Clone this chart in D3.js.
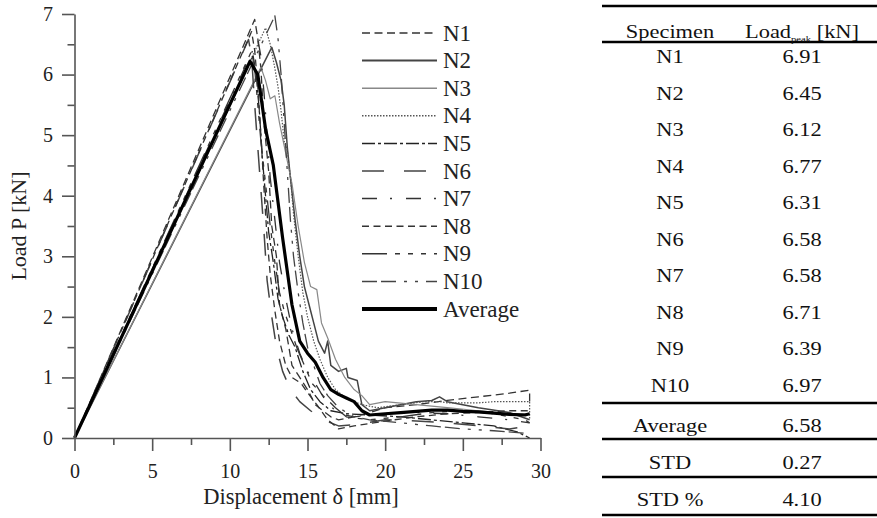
<!DOCTYPE html>
<html><head><meta charset="utf-8">
<script src="https://cdn.jsdelivr.net/npm/d3@7"></script>
<style>body{margin:0;background:#fff}svg{display:block}</style>
</head><body>
<svg id="c" width="877" height="518"></svg>
<script>
// ---------- data ----------
const seriesNames = ["N1","N2","N3","N4","N5","N6","N7","N8","N9","N10","Average"];
const N1 = [[0,0],[11.6,6.91],[11.8,6.6],[12.0,6.1],[12.2,5.2],[12.5,4.4],[12.7,3.5],[13.0,3.0],[13.2,2.2],[13.6,1.8],[14.0,1.2],[14.5,1.0],[15.0,0.8],[15.5,0.55],[16,0.45],[16.5,0.35],[17,0.3],[18,0.35],[19,0.42],[20,0.5],[22,0.55],[24,0.62],[26,0.68],[28,0.74],[29.3,0.79],[29.3,0.6]];
const N2 = [[0,0],[12.7,6.45],[13.0,6.2],[13.3,5.9],[13.5,5.5],[13.7,4.8],[13.9,4.3],[14.2,3.6],[14.5,3.0],[14.8,2.5],[15.1,2.2],[15.4,1.9],[15.7,1.6],[16.1,1.4],[16.3,1.6],[16.5,1.2],[17,1.1],[17.5,1.15],[17.6,1.0],[18.2,0.95],[18.5,0.55],[19,0.45],[20,0.5],[21,0.55],[22,0.6],[23,0.62],[23.5,0.68],[24,0.6],[26,0.5],[28,0.42],[29.3,0.3]];
const N3 = [[0,0],[12.0,6.12],[12.3,5.9],[12.6,5.6],[12.9,5.65],[13.2,5.2],[13.6,4.7],[14.0,4.2],[14.4,3.5],[14.8,2.9],[15.2,2.5],[15.6,2.45],[15.9,1.9],[16.3,1.65],[16.8,1.3],[17.4,1.0],[18.0,0.8],[18.5,0.7],[19,0.55],[20,0.6],[22,0.55],[24,0.5],[26,0.45],[28,0.4],[29.3,0.4]];
const N4 = [[0,0],[12.3,6.77],[12.6,6.5],[12.9,6.1],[13.1,5.8],[13.3,5.4],[13.5,4.9],[13.7,4.75],[13.9,4.3],[14.1,3.7],[14.4,3.0],[14.7,2.4],[15.0,2.0],[15.4,1.6],[15.8,1.3],[16.3,1.0],[16.8,0.8],[17.5,0.65],[18.5,0.55],[19.5,0.5],[21,0.55],[22.5,0.6],[23.5,0.6],[24,0.58],[26,0.58],[27,0.6],[28,0.6],[29.3,0.6],[29.3,0.3]];
const N5 = [[0,0],[11.5,6.31],[11.7,6.0],[11.9,5.4],[12.1,4.6],[12.3,4.0],[12.5,3.4],[12.8,2.9],[13.1,2.3],[13.4,2.0],[13.8,1.7],[14.2,1.5],[14.7,1.1],[15.2,0.8],[15.8,0.6],[16.5,0.45],[17.5,0.4],[19,0.38],[21,0.35],[23,0.3],[25,0.25],[27,0.2],[28.5,0.1],[29.3,0.0]];
const N6 = [[0,0],[11.2,6.58],[11.4,6.3],[11.6,5.5],[11.8,4.8],[12.0,4.1],[12.2,3.4],[12.4,2.6],[12.7,2.0],[13.0,1.5],[13.4,1.1],[13.9,0.8],[14.5,0.6],[15.2,0.45],[16,0.3],[17,0.2],[18,0.22],[20,0.3],[22,0.28],[24,0.25],[26,0.2],[28,0.15],[29.3,0.2]];
const N7 = [[0,0],[11.8,6.58],[12.0,6.3],[12.2,5.7],[12.4,5.0],[12.6,4.3],[12.9,3.6],[13.2,2.9],[13.6,2.3],[14.0,1.8],[14.5,1.4],[15.0,1.1],[15.5,0.9],[16.2,0.6],[17,0.4],[18,0.35],[20,0.4],[22,0.42],[24,0.4],[26,0.35],[28,0.3],[29.3,0.25]];
const N8 = [[0,0],[11.4,6.71],[11.6,6.4],[11.8,5.8],[12.0,5.0],[12.2,4.1],[12.4,3.3],[12.6,2.7],[12.9,2.1],[13.2,1.6],[13.6,1.2],[14.0,1.0],[14.6,0.9],[15.0,0.75],[15.6,0.55],[16.3,0.3],[17,0.15],[18,0.2],[20,0.28],[22,0.35],[24,0.4],[26,0.42],[28,0.45],[29.3,0.45]];
const N9 = [[0,0],[11.4,6.39],[11.6,6.1],[11.8,5.5],[12.0,4.9],[12.3,4.2],[12.6,3.5],[12.9,2.9],[13.2,2.4],[13.5,2.1],[13.9,1.8],[14.3,1.5],[14.8,1.2],[15.3,0.9],[16,0.7],[16.8,0.5],[17.5,0.35],[19,0.3],[21,0.35],[23,0.42],[25,0.45],[27,0.4],[29,0.3],[29.3,0.25]];
const N10 = [[0,0],[12.9,6.97],[13.1,6.6],[13.3,6.0],[13.5,5.2],[13.7,4.4],[13.9,3.6],[14.1,3.0],[14.4,2.4],[14.7,1.9],[15.0,1.5],[15.4,1.2],[15.8,0.9],[16.3,0.7],[17,0.5],[18,0.35],[19,0.3],[21,0.25],[23,0.2],[25,0.15],[27,0.12],[29,0.08],[29.3,0.1]];
const Average = [[0,0],[11.3,6.22],[11.8,6.0],[12.3,5.1],[12.8,4.5],[13.4,3.3],[14.0,2.2],[14.5,1.6],[15.0,1.4],[15.5,1.25],[16.0,1.0],[16.5,0.8],[17.0,0.72],[17.5,0.66],[18.0,0.6],[18.5,0.45],[19,0.38],[20,0.4],[21,0.42],[22,0.44],[23,0.46],[24,0.46],[25,0.44],[26,0.43],[27,0.41],[28,0.39],[29,0.38],[29.3,0.4]];
const seriesData = [N1,N2,N3,N4,N5,N6,N7,N8,N9,N10,Average];

const xTicks = [0,5,10,15,20,25,30];
const yTicks = [0,1,2,3,4,5,6,7];
const xTitle = "Displacement \u03b4 [mm]";
const yTitle = "Load P [kN]";

const tableSpecimens = ["N1","N2","N3","N4","N5","N6","N7","N8","N9","N10"];
const tableLoads = ["6.91","6.45","6.12","6.77","6.31","6.58","6.58","6.71","6.39","6.97"];
const statNames = ["Average","STD","STD %"];
const statValues = ["6.58","0.27","4.10"];

// ---------- styles ----------
const styles = {
  N1:{dash:"8,4.5",w:1.3,c:"#333"},
  N2:{dash:null,w:1.5,c:"#444"},
  N3:{dash:null,w:1.2,c:"#888"},
  N4:{dash:"1.5,1.5",w:1.2,c:"#555"},
  N5:{dash:"13,3,3,3",w:1.3,c:"#222"},
  N6:{dash:"22,20",w:1.5,c:"#444"},
  N7:{dash:"15,13,2,14",w:1.3,c:"#333"},
  N8:{dash:"7,4.5",w:1.3,c:"#333"},
  N9:{dash:"25,8,5,8,5,8,5,8",w:1.3,c:"#333"},
  N10:{dash:"15,4,15,8,3,8,3,8",w:1.3,c:"#444"},
  Average:{dash:null,w:3.2,c:"#000"}
};
const FONT = "'Liberation Serif','Times New Roman',serif";

const svg = d3.select("#c");
const x = d3.scaleLinear().domain([0,30]).range([74.5,540.5]);
const y = d3.scaleLinear().domain([0,7]).range([438,14]);

// curves
const line = d3.line().x(d=>x(d[0])).y(d=>y(d[1]));
const curves = svg.append("g");
seriesNames.forEach((n,i)=>{
  const s = styles[n];
  curves.append("path").datum(seriesData[i])
    .attr("d", line).attr("fill","none")
    .attr("stroke", s.c).attr("stroke-width", s.w)
    .attr("stroke-dasharray", s.dash).attr("stroke-linejoin","round");
});

// axes
const axCol = "#555";
const minorX = d3.range(2.5,30,5);
const minorY = d3.range(0.5,7,1);
const gx = svg.append("g").attr("transform",`translate(0,${y(0)})`)
  .call(d3.axisBottom(x).tickValues(xTicks).tickFormat(d3.format("d")).tickSize(13).tickPadding(13).tickSizeOuter(0));
const gxm = svg.append("g").attr("transform",`translate(0,${y(0)})`)
  .call(d3.axisBottom(x).tickValues(minorX).tickSize(7).tickFormat("").tickSizeOuter(0));
const gy = svg.append("g").attr("transform",`translate(${x(0)},0)`)
  .call(d3.axisLeft(y).tickValues(yTicks).tickFormat(d3.format("d")).tickSize(12.5).tickPadding(9).tickSizeOuter(0));
const gym = svg.append("g").attr("transform",`translate(${x(0)},0)`)
  .call(d3.axisLeft(y).tickValues(minorY).tickSize(7).tickFormat("").tickSizeOuter(0));
[gx,gxm,gy,gym].forEach(g=>{
  g.selectAll("path,line").attr("stroke",axCol).attr("stroke-width",1.6);
  g.selectAll("text").attr("fill","#222").style("font-family",FONT).style("font-size","20px");
});
gxm.select(".domain").remove(); gym.select(".domain").remove();

svg.append("text").attr("x",301).attr("y",504).attr("text-anchor","middle")
  .style("font-family",FONT).style("font-size","22.5px").attr("fill","#222").text(xTitle);
svg.append("text").attr("transform","translate(26,226) rotate(-90)").attr("text-anchor","middle")
  .style("font-family",FONT).style("font-size","22px").attr("fill","#222").text(yTitle);

// legend
const lg = svg.append("g");
seriesNames.forEach((n,i)=>{
  const s = styles[n];
  const yy = 33 + i*27.6;
  lg.append("line").attr("x1",362).attr("x2",437).attr("y1",yy).attr("y2",yy)
    .attr("stroke",s.c).attr("stroke-width", n==="Average"?4:(n==="N2"?2:(n==="N3"?1.6:1.5)))
    .attr("stroke-dasharray", s.dash);
  lg.append("text").attr("x",443).attr("y",yy+7.5)
    .style("font-family",FONT).style("font-size","23px").attr("fill","#222").text(n);
});

// table
const tb = svg.append("g");
const colA = 670, colB = 802, sx = 1.18, tfs = 19;
function ttext(cx, cy, str){
  return tb.append("text").attr("transform",`translate(${cx},${cy+6.3}) scale(${sx},1)`)
    .attr("text-anchor","middle").style("font-family",FONT).style("font-size",tfs+"px")
    .attr("fill","#111").text(str);
}
function hline(yy){
  tb.append("line").attr("x1",602).attr("x2",877).attr("y1",yy).attr("y2",yy)
    .attr("stroke","#000").attr("stroke-width",2.4);
}
hline(6); hline(42);
ttext(colA, 32, "Specimen");
const hd = tb.append("text").attr("transform",`translate(${colB},${32+6.3}) scale(${sx},1)`)
  .attr("text-anchor","middle").style("font-family",FONT).style("font-size",tfs+"px").attr("fill","#111");
hd.append("tspan").text("Load");
hd.append("tspan").attr("dy",4).style("font-size","9px").text("peak");
hd.append("tspan").attr("dy",-4).text(" [kN]");
tableSpecimens.forEach((s,i)=>{
  const cy = 57 + i*36.5;
  ttext(colA, cy, s);
  ttext(colB, cy, tableLoads[i]);
});
hline(403);
const statY = [426, 463, 500];
statNames.forEach((s,i)=>{
  ttext(colA, statY[i], s);
  ttext(colB, statY[i], statValues[i]);
});
hline(439); hline(477); hline(515);
</script>
</body></html>
